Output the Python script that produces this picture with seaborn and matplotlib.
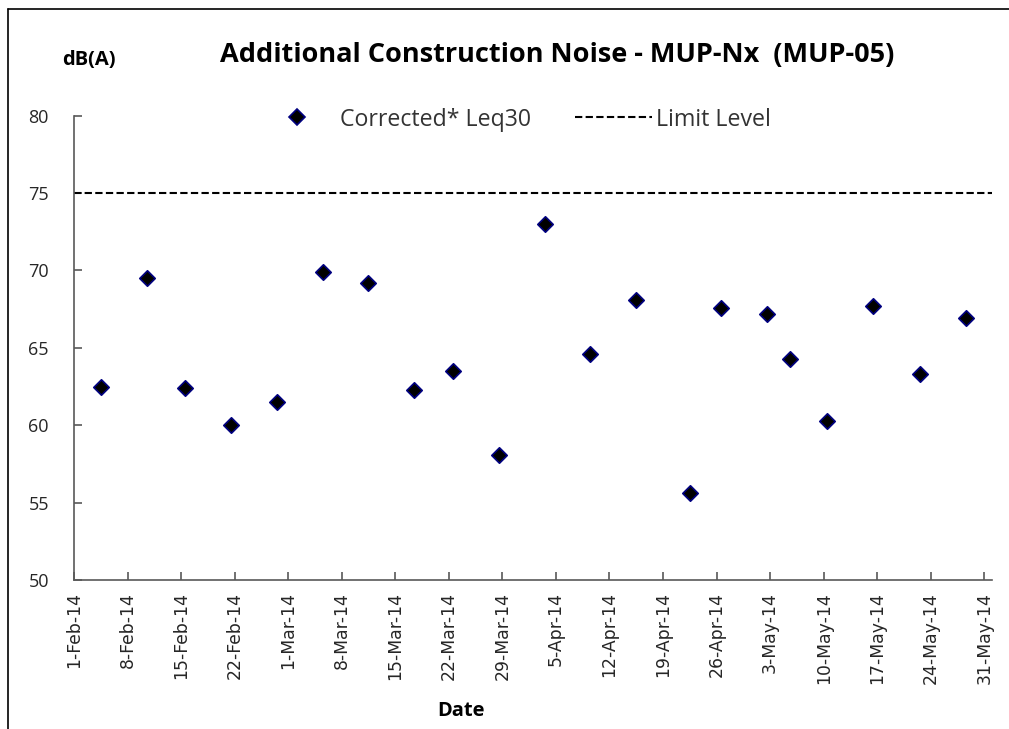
"""
Additional Construction Noise - MUP-Nx (MUP-05) scatter chart
"""

import pandas as pd
import matplotlib.pyplot as plt
from matplotlib.lines import Line2D
import seaborn as sns

# measurement dates (mid-day) and corrected Leq30 readings, dB(A)
dates = [
    '2014-02-04 12:00', '2014-02-10 12:00', '2014-02-15 12:00', '2014-02-21 14:00',
    '2014-02-27 14:00', '2014-03-05 12:00', '2014-03-11 12:00', '2014-03-17 12:00',
    '2014-03-22 12:00', '2014-03-28 14:00', '2014-04-03 14:00', '2014-04-09 10:00',
    '2014-04-15 12:00', '2014-04-22 14:00', '2014-04-26 14:00', '2014-05-02 14:00',
    '2014-05-05 14:00', '2014-05-10 12:00', '2014-05-16 12:00', '2014-05-22 14:00',
    '2014-05-28 14:00',
]
leq30 = [62.5, 69.5, 62.4, 60.0, 61.5, 69.9, 69.2, 62.3, 63.5, 58.1, 73.0,
         64.6, 68.1, 55.6, 67.6, 67.2, 64.3, 60.3, 67.7, 63.3, 66.9]
limit_level = 75

tick_labels = ['1-Feb-14', '8-Feb-14', '15-Feb-14', '22-Feb-14', '1-Mar-14',
               '8-Mar-14', '15-Mar-14', '22-Mar-14', '29-Mar-14', '5-Apr-14',
               '12-Apr-14', '19-Apr-14', '26-Apr-14', '3-May-14', '10-May-14',
               '17-May-14', '24-May-14', '31-May-14']
y_ticks = [50, 55, 60, 65, 70, 75, 80]

df = pd.DataFrame({'date': pd.to_datetime(dates), 'leq': leq30})
tick_dates = pd.to_datetime(tick_labels, format='%d-%b-%y')

sns.set_style('white')
plt.rcParams['font.family'] = ['Open Sans', 'DejaVu Sans']
axis_grey = '#595959'
text_grey = '#333333'

fig = plt.figure(figsize=(10.09, 7.29), dpi=100)
ax = fig.add_axes([0.0733, 0.2044, 0.9098, 0.6369])

# 数据点
sns.scatterplot(data=df, x='date', y='leq', marker='D', s=62, color='black',
                edgecolor='#000080', linewidth=1.2, ax=ax, zorder=3)

# limit level
ax.axhline(limit_level, color='black', linewidth=1.5,
           linestyle=(0, (3.5, 1.6)), zorder=2)

ax.set_xlim(pd.Timestamp('2014-02-01'), pd.Timestamp('2014-06-01'))
ax.set_ylim(50, 80)
ax.set_xticks(tick_dates)
ax.set_xticklabels(tick_labels, rotation=90, family='DejaVu Sans',
                   fontsize=12.4, color='#262626')
ax.set_yticks(y_ticks)
ax.set_yticklabels([str(v) for v in y_ticks], fontsize=13, color='#262626')
ax.tick_params(axis='both', direction='in', length=6, width=1.2,
               color=axis_grey, bottom=True, left=True)
ax.tick_params(axis='x', pad=9)
ax.tick_params(axis='y', pad=18)
ax.set_xlabel('')
ax.set_ylabel('')

for side in ['top', 'right']:
    ax.spines[side].set_visible(False)
for side in ['left', 'bottom']:
    ax.spines[side].set_color(axis_grey)
    ax.spines[side].set_linewidth(1.2)

# legend
handles = [
    Line2D([], [], marker='D', linestyle='none', markersize=8.5,
           markerfacecolor='black', markeredgecolor='#000080', markeredgewidth=1.2),
    Line2D([], [], color='black', linewidth=1.5, linestyle=(0, (3.5, 1.6))),
]
fig.legend(handles, ['Corrected* Leq30', 'Limit Level'], loc='center left',
           bbox_to_anchor=(0.2567, 0.836), ncol=2, frameon=False, fontsize=16.7,
           handlelength=3.3, handletextpad=0.2, columnspacing=1.9,
           borderpad=0, borderaxespad=0, labelcolor=text_grey)

# titles
fig.text(0.552, 0.924, 'Additional Construction Noise - MUP-Nx  (MUP-05)',
         ha='center', va='center', fontsize=19.5, fontweight='bold', color='black')
fig.text(0.088, 0.918, 'dB(A)', ha='center', va='center', fontsize=14.5,
         fontweight='bold', color='black')
fig.text(0.457, 0.025, 'Date', ha='center', va='center', fontsize=14.5,
         fontweight='bold', color='black')

# outer frame (left and top edges)
fig.add_artist(Line2D([8 / 1009, 8 / 1009], [0, 1 - 9 / 729], color='black',
                      linewidth=1.2, transform=fig.transFigure))
fig.add_artist(Line2D([8 / 1009, 1], [1 - 9 / 729, 1 - 9 / 729], color='black',
                      linewidth=1.2, transform=fig.transFigure))

fig.savefig('out.png', dpi=100)
